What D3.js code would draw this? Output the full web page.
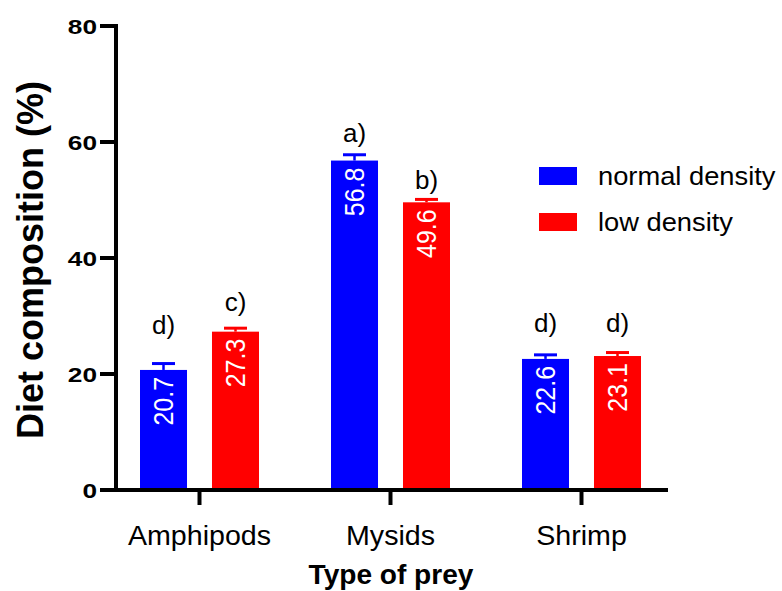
<!DOCTYPE html>
<html>
<head>
<meta charset="utf-8">
<script src="https://cdn.jsdelivr.net/npm/d3@7"></script>
<style>
  body { margin: 0; background: #fff; }
  text { font-family: "Liberation Sans", Arial, sans-serif; }
</style>
</head>
<body>
<script>
// data
var categories = ["Amphipods", "Mysids", "Shrimp"];
var series = ["normal density", "low density"];
var colors = ["#0000ff", "#ff0000"];
var normalVals = [20.7, 56.8, 22.6];
var lowVals = [27.3, 49.6, 23.1];
var normalErr = [1.1, 1.0, 0.7];
var lowErr = [0.6, 0.5, 0.6];
// significance letters and the height (in %) they sit at
var normalLetters = ["d)", "a)", "d)"];
var lowLetters = ["c)", "b)", "d)"];
var normalLetterAt = [28.4, 61.6, 28.8];
var lowLetterAt = [32.4, 53.4, 28.8];
var yTicks = [0, 20, 40, 60, 80];

var width = 782, height = 591;

var svg = d3.select("body").append("svg")
    .attr("width", width)
    .attr("height", height);

var y = d3.scaleLinear().domain([0, 80]).range([490, 26]);
var x = d3.scaleBand().domain(categories).range([104, 677]);
var xs = d3.scaleBand().domain(series).range([-59.5, 59.5]).paddingInner(0.347);

// build rows
var rows = [];
categories.forEach(function(c, i) {
    rows.push({cat: c, s: series[0], v: normalVals[i], e: normalErr[i], lab: normalLetters[i], at: normalLetterAt[i], col: colors[0]});
    rows.push({cat: c, s: series[1], v: lowVals[i], e: lowErr[i], lab: lowLetters[i], at: lowLetterAt[i], col: colors[1]});
});
function cx(d) { return x(d.cat) + x.bandwidth() / 2 + xs(d.s) + xs.bandwidth() / 2; }

// text helper, source picture is a bit stretched sideways
function stxt(parent, px, py, sx, rot) {
    var g = parent.append("g")
        .attr("transform", "translate(" + px + "," + py + ") scale(" + sx + ",1)" + (rot ? " rotate(" + rot + ")" : ""));
    return g.append("text");
}

// bars
svg.selectAll("rect.bar").data(rows).enter().append("rect")
    .attr("class", "bar")
    .attr("x", function(d) { return cx(d) - xs.bandwidth() / 2; })
    .attr("width", xs.bandwidth())
    .attr("y", function(d) { return y(d.v); })
    .attr("height", function(d) { return y(0) - y(d.v); })
    .attr("fill", function(d) { return d.col; });

// error bars (upper only)
var eb = svg.selectAll("g.err").data(rows).enter().append("g").attr("class", "err");
eb.append("line")
    .attr("x1", cx).attr("x2", cx)
    .attr("y1", function(d) { return y(d.v); })
    .attr("y2", function(d) { return y(d.v + d.e); })
    .attr("stroke", function(d) { return d.col; })
    .attr("stroke-width", 2.5);
eb.append("line")
    .attr("x1", function(d) { return cx(d) - 11.5; })
    .attr("x2", function(d) { return cx(d) + 11.5; })
    .attr("y1", function(d) { return y(d.v + d.e); })
    .attr("y2", function(d) { return y(d.v + d.e); })
    .attr("stroke", function(d) { return d.col; })
    .attr("stroke-width", 3);

// value labels inside bars, letters above
rows.forEach(function(d) {
    stxt(svg, cx(d), y(d.v) + 7, 1.1, -90)
        .attr("text-anchor", "end")
        .attr("dominant-baseline", "central")
        .attr("font-size", 25)
        .attr("fill", "#fff")
        .text(d.v.toFixed(1));
    stxt(svg, cx(d), y(d.at), 1.0)
        .attr("text-anchor", "middle")
        .attr("dominant-baseline", "central")
        .attr("font-size", 26)
        .attr("fill", "#000")
        .text(d.lab);
});

// axes
var axis = svg.append("g").attr("stroke", "#000").attr("stroke-width", 4);
axis.append("line").attr("x1", 116).attr("x2", 116).attr("y1", y(80) - 2).attr("y2", y(0));
axis.append("line").attr("x1", 100).attr("x2", 668).attr("y1", y(0)).attr("y2", y(0));
yTicks.forEach(function(t) {
    if (t > 0) axis.append("line").attr("x1", 100).attr("x2", 116).attr("y1", y(t)).attr("y2", y(t));
    stxt(svg, 97, y(t), 1.25)
        .attr("text-anchor", "end")
        .attr("dominant-baseline", "central")
        .attr("font-size", 21)
        .attr("font-weight", "bold")
        .text(t);
});
categories.forEach(function(c) {
    var tx = x(c) + x.bandwidth() / 2;
    axis.append("line").attr("x1", tx).attr("x2", tx).attr("y1", y(0)).attr("y2", 505);
    stxt(svg, tx, 545, 1.06)
        .attr("text-anchor", "middle")
        .attr("font-size", 27)
        .text(c);
});

// axis titles
stxt(svg, 391, 584, 1.04)
    .attr("text-anchor", "middle")
    .attr("font-size", 27)
    .attr("font-weight", "bold")
    .text("Type of prey");
stxt(svg, 43, 260, 1.05, -90)
    .attr("text-anchor", "middle")
    .attr("font-size", 36)
    .attr("font-weight", "bold")
    .text("Diet composition (%)");

// legend
var leg = svg.append("g");
series.forEach(function(s, i) {
    var ly = 176 + i * 46;
    leg.append("rect")
        .attr("x", 539).attr("y", ly - 9)
        .attr("width", 38).attr("height", 18)
        .attr("fill", colors[i]);
    stxt(leg, 598, ly, 1.05)
        .attr("dominant-baseline", "central")
        .attr("font-size", 26)
        .text(s);
});
</script>
</body>
</html>
